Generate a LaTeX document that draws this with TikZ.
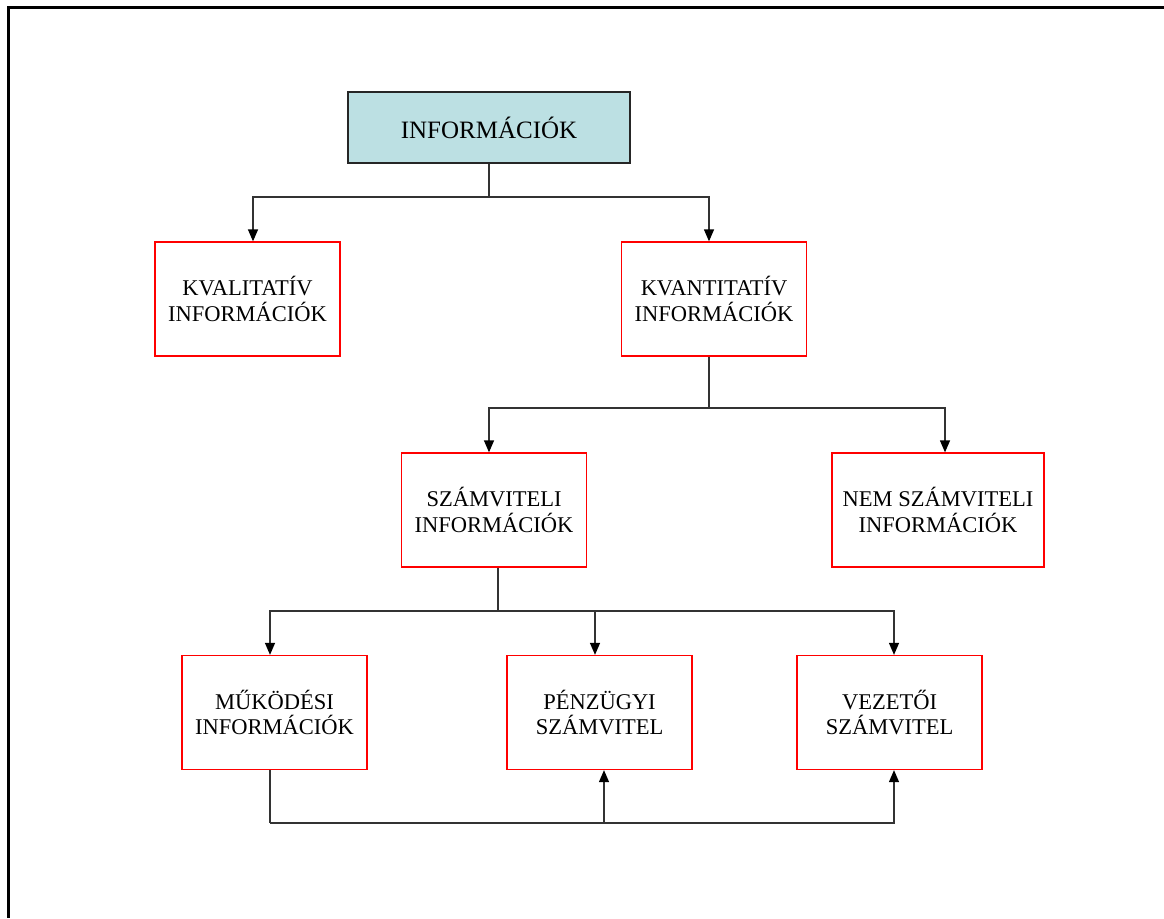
\documentclass[tikz,border=0pt]{standalone}
\usepackage{fontspec}
\setmainfont{Liberation Serif}
\usetikzlibrary{arrows.meta,calc}
\definecolor{infofill}{HTML}{BCE0E3}
\tikzset{
  redbox/.style={draw=red, line width=1.3pt, minimum width=185pt, minimum height=114pt, inner sep=0pt, align=center, font=\fontsize{22.5}{25.5}\selectfont},
  topbox/.style={draw=black!85, fill=infofill, line width=1.3pt, minimum width=282pt, minimum height=71pt, inner sep=0pt, font=\fontsize{25}{30}\selectfont},
  conn/.style={draw=black!80, line width=1.3pt},
  arr/.style={conn, -{Triangle[length=12pt,width=10pt,fill=black,color=black]}},
  frame/.style={draw=black, line width=3pt}
}
\begin{document}
\begin{tikzpicture}[x=1pt,y=-1pt]
\useasboundingbox (0,0) rectangle (1164,918);
\coordinate (ftl) at (8,7);
\coordinate (ftr) at (1164,7);
\coordinate (fbl) at (8,918);
\draw[frame] (ftr) -- (ftl) -- (fbl);

\node[topbox] (info) at (489,127.5) {INFORMÁCIÓK};
\node[redbox] (kval) at (247.5,299) {KVALITATÍV\\INFORMÁCIÓK};
\node[redbox] (kvant) at (714,299) {KVANTITATÍV\\INFORMÁCIÓK};
\node[redbox] (szam) at (494,510) {SZÁMVITELI\\INFORMÁCIÓK};
\node[redbox, minimum width=212pt] (nem) at (938,510) {NEM SZÁMVITELI\\INFORMÁCIÓK};
\node[redbox] (mukod) at (274.5,712.5) {MŰKÖDÉSI\\INFORMÁCIÓK};
\node[redbox] (penz) at (599.5,712.5) {PÉNZÜGYI\\SZÁMVITEL};
\node[redbox] (vez) at (889.5,712.5) {VEZETŐI\\SZÁMVITEL};

% level 1
\coordinate (j1) at (489,197);
\draw[conn] (info.south) -- (j1);
\draw[arr] (j1) -| ([xshift=5.5pt]kval.north);
\draw[arr] (j1) -| ([xshift=-5pt]kvant.north);

% level 2
\coordinate (j2) at (709,408);
\draw[conn] ([xshift=-5pt]kvant.south) -- (j2);
\draw[arr] (j2) -| ([xshift=-5pt]szam.north);
\draw[arr] (j2) -| ([xshift=7pt]nem.north);

% level 3
\coordinate (j3) at (498,611);
\draw[conn] ([xshift=4pt]szam.south) -- (j3);
\draw[arr] (j3) -| ([xshift=-4.5pt]mukod.north);
\draw[arr] (j3) -| ([xshift=-4.5pt]penz.north);
\draw[arr] (j3) -| ([xshift=4.5pt]vez.north);

% bottom feedback
\coordinate (b1) at (270,823);
\coordinate (b2) at (604,823);
\draw[conn] ([xshift=-4.5pt]mukod.south) -- (b1);
\draw[arr] (b1) -| ([xshift=4.5pt]vez.south);
\draw[arr] (b2) -- ([xshift=4.5pt]penz.south);
\end{tikzpicture}
\end{document}
